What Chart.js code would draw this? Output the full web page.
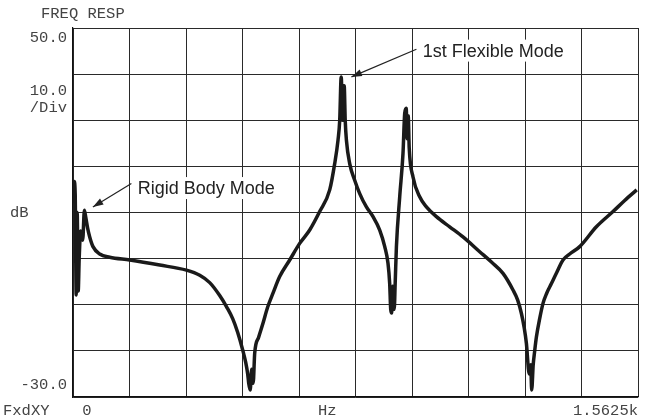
<!DOCTYPE html>
<html>
<head>
<meta charset="utf-8">
<script src="https://cdn.jsdelivr.net/npm/chart.js@4/dist/chart.umd.min.js"></script>
<style>
html,body{margin:0;padding:0;background:#fff;}
#wrap{width:647px;height:420px;}
</style>
</head>
<body>
<div id="wrap"><canvas id="c" width="647" height="420"></canvas></div>
<script>
// Frequency (Hz) samples
const freqHz = [0.6,3.3,6.1,8.8,11.6,14.4,17.1,21.3,26.8,31.5,35.2,40.7,46.2,55.3,73.8,101.5,156.8,239.8,313.6,350.5,378.1,405.7,425.1,441.6,455.5,469.3,477.6,483.1,485.9,490.0,494.2,498.3,502.5,513.6,525.4,538.4,553.1,571.6,599.3,626.9,654.6,682.2,709.9,723.7,732.9,737.6,741.7,745.9,750.0,752.8,756.1,765.2,779.0,792.9,811.4,829.7,848.2,862.1,871.1,875.8,878.6,881.4,884.1,888.3,891.0,894.4,903.5,912.6,917.3,921.5,924.2,927.0,929.8,940.3,958.8,977.3,1005.0,1041.7,1078.5,1124.7,1157.9,1189.2,1216.8,1229.8,1240.1,1247.8,1253.9,1261.6,1265.8,1268.5,1272.7,1276.8,1281.5,1290.6,1299.8,1310.0,1323.0,1337.7,1355.1,1373.6,1401.3,1447.4,1493.4,1525.7,1558.9];
// Magnitude (dB) values
const magDb = [12,16.7,14,-7.9,10,-7,0,6,4,10.5,9,6.5,4.7,2.6,1.0,0.3,-0.3,-1.4,-2.5,-3.6,-5.2,-8,-10.5,-13,-16,-19.8,-22.5,-25,-27,-28.5,-24,-27,-20.5,-17,-14,-10.5,-7.5,-3.9,-0.3,3.3,6.2,10.2,14.9,20.6,25.7,30,39.4,30,37.5,30,25.7,20.6,17,14.1,11.2,9.1,6.2,2.6,-1,-5.4,-11,-11.8,-6,-11,-5.4,2.6,13.4,22.8,31.5,32.6,26,31,24,17.7,13.4,11.2,9.1,6.9,4.7,1.5,-0.8,-3.2,-6.8,-9,-11.9,-15,-18.4,-25,-23,-28.5,-23,-20,-17,-13,-9.7,-7.5,-5.4,-3,-0.3,1,2.6,6.9,10.2,12.6,14.9];

const yTickLabels = ['50.0','10.0','/Div','dB','-30.0'];
const xTickLabels = ['FxdXY','0','Hz','1.5625k'];
const titleText = 'FREQ RESP';
const annotations = [
  {text:'Rigid Body Mode', tipHz:55, tipDb:11.2, tailHz:161.5, tailDb:16.3, textHz:179, textDb:15.3},
  {text:'1st Flexible Mode', tipHz:770, tipDb:39.4, tailHz:949.7, tailDb:45.4, textHz:967, textDb:45.1}
];

const points = freqHz.map((f,i)=>({x:f,y:magDb[i]}));

const labelsPlugin = {
  id:'labels',
  afterDraw(chart){
    const ctx = chart.ctx;
    const xs = chart.scales.x, ys = chart.scales.y;
    const a = chart.chartArea;
    ctx.save();
    ctx.fillStyle = '#444';
    ctx.font = '15.5px "Liberation Mono", monospace';
    ctx.textBaseline = 'middle';
    // title
    ctx.textAlign = 'left';
    ctx.fillText(titleText, 41, 14);
    // y labels
    ctx.textAlign = 'right';
    ctx.fillText(yTickLabels[0], 67, ys.getPixelForValue(50)+10);
    ctx.fillText(yTickLabels[1], 67, ys.getPixelForValue(40)+17);
    ctx.fillText(yTickLabels[2], 67, ys.getPixelForValue(40)+34);
    ctx.textAlign = 'left';
    ctx.fillText(yTickLabels[3], 10, ys.getPixelForValue(10));
    ctx.textAlign = 'right';
    ctx.fillText(yTickLabels[4], 67, ys.getPixelForValue(-30)-12);
    // x labels
    const by = a.bottom + 14;
    ctx.textAlign = 'left';
    ctx.fillText(xTickLabels[0], 3, by);
    ctx.textAlign = 'center';
    ctx.fillText(xTickLabels[1], xs.getPixelForValue(0)+14, by);
    ctx.fillText(xTickLabels[2], xs.getPixelForValue(703), by);
    ctx.textAlign = 'right';
    ctx.fillText(xTickLabels[3], a.right, by);

    // annotations
    ctx.font = '18px "Liberation Sans", Arial, sans-serif';
    ctx.textAlign = 'left';
    annotations.forEach(an=>{
      const tx = xs.getPixelForValue(an.textHz), ty = ys.getPixelForValue(an.textDb);
      const w = ctx.measureText(an.text).width;
      ctx.fillStyle = '#fff';
      ctx.fillRect(tx-3, ty-11, w+6, 22);
      ctx.fillStyle = '#222';
      ctx.fillText(an.text, tx, ty+1);
      const x1 = xs.getPixelForValue(an.tailHz), y1 = ys.getPixelForValue(an.tailDb);
      const x2 = xs.getPixelForValue(an.tipHz), y2 = ys.getPixelForValue(an.tipDb);
      ctx.strokeStyle = '#222';
      ctx.lineWidth = 1.2;
      ctx.beginPath(); ctx.moveTo(x1,y1); ctx.lineTo(x2,y2); ctx.stroke();
      const ang = Math.atan2(y2-y1, x2-x1);
      const L = 11, hw = 0.32;
      ctx.beginPath();
      ctx.moveTo(x2,y2);
      ctx.lineTo(x2 - L*Math.cos(ang-hw), y2 - L*Math.sin(ang-hw));
      ctx.lineTo(x2 - L*Math.cos(ang+hw), y2 - L*Math.sin(ang+hw));
      ctx.closePath();
      ctx.fillStyle = '#222';
      ctx.fill();
    });
    ctx.restore();
  }
};

new Chart(document.getElementById('c'), {
  type:'line',
  data:{datasets:[{data:points, borderColor:'#1a1a1a', borderWidth:3.5, pointRadius:0, cubicInterpolationMode:'monotone', fill:false}]},
  options:{
    responsive:false, animation:false,
    layout:{padding:{left:0, top:28, right:9, bottom:0}},
    plugins:{legend:{display:false}, tooltip:{enabled:false}},
    scales:{
      x:{type:'linear', min:0, max:1562.5,
         ticks:{display:false, stepSize:156.25},
         grid:{color:'#2a2a2a', lineWidth:1, drawTicks:false},
         border:{color:'#111', width:1.2},
         afterFit(s){ s.height = 23; }},
      y:{type:'linear', min:-30, max:50,
         ticks:{display:false, stepSize:10},
         grid:{color:'#2a2a2a', lineWidth:1, drawTicks:false},
         border:{color:'#111', width:1.2},
         afterFit(s){ s.width = 73; }}
    }
  },
  plugins:[labelsPlugin]
});
</script>
</body>
</html>
